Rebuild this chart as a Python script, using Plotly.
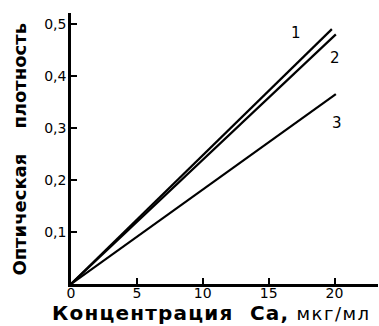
import plotly.graph_objects as go

# Data
conc_1 = [0, 19.8]
dens_1 = [0, 0.49]
conc_2 = [0, 20.1]
dens_2 = [0, 0.48]
conc_3 = [0, 20.1]
dens_3 = [0, 0.365]

curve_labels = ["1", "2", "3"]
label_x = [17.1, 20.0, 20.2]
label_y = [0.482, 0.435, 0.31]

x_tickvals = [0, 5, 10, 15, 20]
x_ticktext = ["0", "5", "10", "15", "20"]
y_tickvals = [0.1, 0.2, 0.3, 0.4, 0.5]
y_ticktext = ["0,1", "0,2", "0,3", "0,4", "0,5"]

fig = go.Figure()
for xs, ys in [(conc_1, dens_1), (conc_2, dens_2), (conc_3, dens_3)]:
    fig.add_trace(go.Scatter(x=xs, y=ys, mode="lines",
                             line=dict(color="black", width=2.2),
                             showlegend=False, hoverinfo="skip"))

for t, lx, ly in zip(curve_labels, label_x, label_y):
    fig.add_annotation(x=lx, y=ly, text=t, showarrow=False,
                       font=dict(family="DejaVu Sans", size=15, color="black"))

fig.update_layout(
    width=379, height=326,
    margin=dict(l=71, r=1, t=13, b=42),
    plot_bgcolor="white", paper_bgcolor="white",
    font=dict(family="DejaVu Sans", color="black"),
)
fig.update_xaxes(range=[0, 23.3], tickvals=x_tickvals, ticktext=x_ticktext,
                 ticks="inside", ticklen=6, tickwidth=2, tickcolor="black",
                 showline=True, linewidth=2.5, linecolor="black",
                 showgrid=False, zeroline=False, ticklabelstandoff=-6,
                 tickfont=dict(size=14, family="DejaVu Sans"))
fig.update_yaxes(range=[0, 0.521], tickvals=y_tickvals, ticktext=y_ticktext,
                 ticks="inside", ticklen=6, tickwidth=2, tickcolor="black",
                 showline=True, linewidth=2.5, linecolor="black",
                 showgrid=False, zeroline=False, ticklabelstandoff=-1,
                 tickfont=dict(size=14, family="DejaVu Sans"))

fig.add_annotation(xref="paper", yref="paper", x=-0.166, y=0.496,
                   xanchor="center", yanchor="middle",
                   text="<b>Оптическая&nbsp;&nbsp;&nbsp;&nbsp;плотность</b>",
                   textangle=-90, showarrow=False,
                   font=dict(family="DejaVu Sans", size=18, color="black"))
fig.add_annotation(xref="paper", yref="paper", x=-0.07, y=-0.108,
                   xanchor="left", yanchor="middle",
                   text="<span style='letter-spacing:1.2px'><b>Концентрация&nbsp;&nbsp;Са,</b></span>"
                        "<span style='font-size:18px;letter-spacing:1.5px'>&nbsp;мкг/мл</span>",
                   showarrow=False,
                   font=dict(family="DejaVu Sans", size=20, color="black"))

fig.write_html("out.html", config={"displayModeBar": False},
               post_script="document.body.style.margin='0';document.body.style.padding='0';")
